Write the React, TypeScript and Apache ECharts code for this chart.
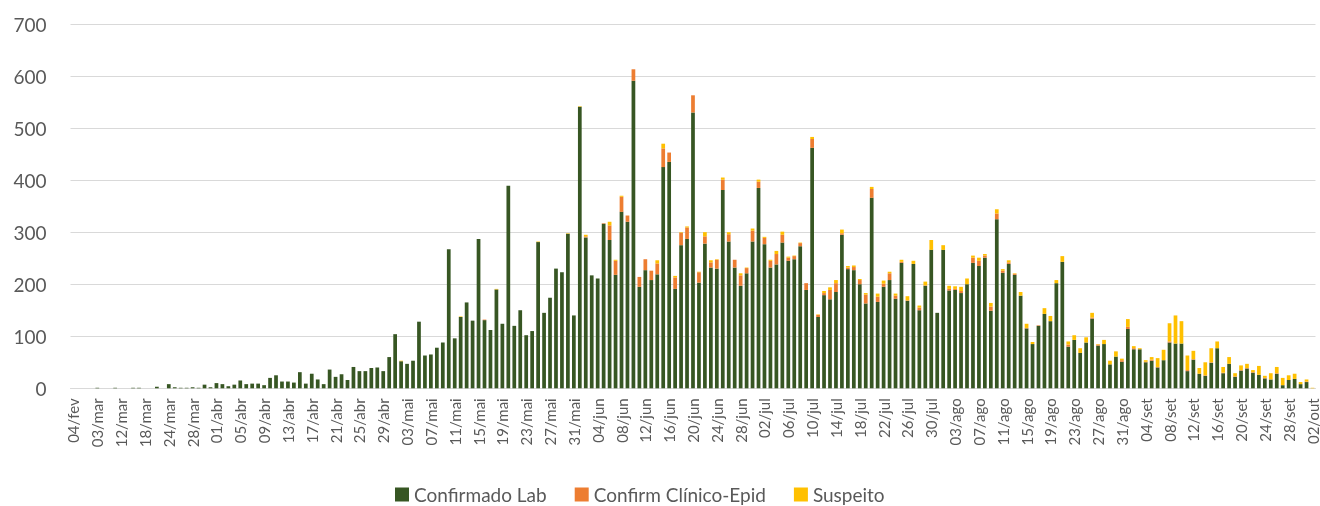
import React, { useEffect, useRef } from "react";
import * as echarts from "echarts";

const monthNames = ["jan", "fev", "mar", "abr", "mai", "jun", "jul", "ago", "set", "out", "nov", "dez"];
const earlyDates = [
  "04/fev", "26/fev", "28/fev", "01/mar", "03/mar", "05/mar", "07/mar", "10/mar", "12/mar", "14/mar",
  "16/mar", "17/mar", "18/mar", "20/mar", "21/mar", "23/mar", "24/mar", "25/mar", "26/mar", "27/mar",
];
const dailyStart = [2020, 2, 28];
const dailyEnd = [2020, 9, 2];

function buildDates(): string[] {
  const out = [...earlyDates];
  const d = new Date(dailyStart[0], dailyStart[1], dailyStart[2]);
  const end = new Date(dailyEnd[0], dailyEnd[1], dailyEnd[2]);
  while (d.getTime() <= end.getTime()) {
    const dd = String(d.getDate()).padStart(2, "0");
    out.push(dd + "/" + monthNames[d.getMonth()]);
    d.setDate(d.getDate() + 1);
  }
  return out;
}
const categories = buildDates();

const confirmadoLab = [
  0, 0, 0, 0, 1, 0, 0, 1, 0, 0,
  1, 1, 0, 0, 3, 0, 8, 2, 1, 1,
  2, 1, 7, 2, 10, 8, 4, 7, 15, 8,
  9, 9, 6, 20, 25, 13, 13, 11, 31, 9,
  28, 17, 8, 36, 22, 27, 16, 41, 33, 33,
  39, 40, 33, 60, 104, 52, 47, 53, 128, 63,
  65, 78, 88, 267, 96, 137, 165, 130, 287, 131,
  112, 190, 124, 389, 120, 150, 102, 110, 281, 145,
  174, 230, 223, 297, 140, 541, 290, 217, 211, 316,
  285, 218, 339, 320, 591, 195, 227, 208, 219, 425,
  435, 191, 275, 287, 530, 203, 278, 232, 230, 381,
  282, 232, 197, 221, 282, 385, 277, 232, 238, 280,
  245, 248, 273, 189, 462, 137, 179, 171, 185, 295,
  229, 227, 200, 163, 366, 166, 195, 208, 172, 241,
  168, 239, 150, 197, 266, 145, 266, 188, 189, 183,
  200, 241, 235, 251, 149, 325, 222, 239, 218, 178,
  115, 85, 120, 143, 129, 202, 243, 80, 93, 68,
  88, 134, 82, 85, 46, 61, 51, 114, 75, 75,
  50, 53, 40, 54, 88, 86, 86, 33, 55, 28,
  24, 49, 77, 29, 47, 22, 34, 38, 30, 26,
  19, 17, 28, 6, 16, 18, 8, 12, 0,
];

const confirmClinicoEpid = [
  0, 0, 0, 0, 0, 0, 0, 0, 0, 0,
  0, 0, 0, 0, 0, 0, 0, 0, 0, 0,
  0, 0, 0, 0, 0, 0, 0, 0, 0, 0,
  0, 0, 0, 0, 0, 0, 0, 0, 0, 0,
  0, 0, 0, 0, 0, 0, 0, 0, 0, 0,
  0, 0, 0, 0, 0, 0, 0, 0, 0, 0,
  0, 0, 0, 0, 0, 0, 0, 0, 0, 1,
  0, 0, 0, 0, 0, 0, 0, 0, 0, 0,
  0, 0, 0, 0, 0, 0, 2, 0, 0, 1,
  28, 27, 29, 12, 22, 19, 21, 18, 21, 36,
  18, 22, 24, 22, 33, 20, 14, 10, 17, 20,
  14, 15, 20, 10, 21, 12, 12, 13, 20, 15,
  6, 6, 6, 13, 17, 4, 4, 18, 17, 3,
  3, 6, 8, 17, 17, 10, 6, 13, 6, 2,
  1, 0, 5, 1, 0, 0, 0, 3, 2, 4,
  0, 10, 10, 4, 8, 11, 4, 3, 2, 0,
  1, 0, 1, 0, 0, 0, 0, 4, 0, 0,
  0, 2, 2, 0, 0, 0, 3, 4, 2, 0,
  1, 2, 1, 0, 2, 0, 0, 2, 1, 0,
  1, 1, 0, 1, 0, 1, 1, 1, 1, 0,
  1, 0, 1, 0, 0, 0, 0, 1, 0,
];

const suspeito = [
  0, 0, 0, 0, 0, 0, 0, 0, 0, 0,
  0, 0, 0, 0, 0, 0, 0, 0, 0, 0,
  0, 0, 0, 0, 0, 0, 0, 0, 0, 0,
  0, 0, 0, 0, 0, 0, 0, 0, 0, 0,
  0, 0, 0, 0, 0, 0, 0, 0, 0, 0,
  0, 0, 0, 0, 0, 1, 0, 0, 0, 0,
  0, 0, 0, 0, 0, 1, 0, 0, 0, 0,
  0, 1, 0, 0, 0, 0, 0, 0, 1, 0,
  0, 0, 0, 1, 0, 1, 3, 0, 0, 0,
  7, 2, 2, 0, 0, 0, 0, 0, 6, 9,
  0, 3, 1, 2, 0, 1, 8, 4, 1, 4,
  4, 0, 4, 1, 4, 4, 2, 2, 6, 6,
  2, 1, 1, 0, 4, 1, 4, 5, 6, 7,
  3, 3, 2, 3, 4, 6, 6, 3, 4, 4,
  8, 6, 4, 7, 19, 0, 9, 6, 5, 8,
  11, 4, 6, 3, 7, 8, 3, 4, 1, 7,
  8, 4, 0, 11, 10, 6, 11, 6, 9, 9,
  10, 9, 1, 8, 7, 10, 3, 15, 4, 2,
  3, 5, 17, 20, 35, 54, 43, 28, 16, 11,
  25, 27, 13, 11, 13, 6, 9, 8, 4, 17,
  4, 12, 12, 14, 9, 10, 4, 4, 1,
];

const seriesNames = ["Confirmado Lab", "Confirm Clínico-Epid", "Suspeito"];
const seriesColors = ["#375623", "#ED7D31", "#FFC000"];

export default function App() {
  const ref = useRef<HTMLDivElement>(null);
  useEffect(() => {
    if (!ref.current) return;
    const chart = echarts.init(ref.current, null, { renderer: "svg" });
    const font = "Lato, 'Open Sans', sans-serif";
    const values = [confirmadoLab, confirmClinicoEpid, suspeito];
    chart.setOption({
      animation: false,
      textStyle: { fontFamily: font },
      grid: { left: 70.5, right: 4, top: 24, bottom: 117.7, containLabel: false },
      legend: {
        data: seriesNames,
        left: 390,
        top: 480,
        itemWidth: 14,
        itemHeight: 14,
        itemGap: 28,
        icon: "rect",
        textStyle: { fontSize: 19, color: "#595959", fontFamily: font },
      },
      xAxis: {
        type: "category",
        data: categories,
        axisTick: { show: false },
        axisLine: { lineStyle: { color: "#D9D9D9", width: 1 } },
        axisLabel: {
          interval: 3,
          rotate: 90,
          fontSize: 15,
          lineHeight: 15,
          color: "#595959",
          fontFamily: font,
          margin: 10,
        },
      },
      yAxis: {
        type: "value",
        min: 0,
        max: 700,
        interval: 100,
        axisLine: { show: false },
        axisTick: { show: false },
        splitLine: { lineStyle: { color: "#D9D9D9", width: 1 } },
        axisLabel: { fontSize: 19, color: "#595959", fontFamily: font, margin: 24 },
      },
      series: seriesNames.map((name, i) => ({
        name,
        type: "bar",
        stack: "total",
        barCategoryGap: "37.5%",
        itemStyle: { color: seriesColors[i] },
        data: values[i],
      })),
    });
    return () => chart.dispose();
  }, []);
  return (
    <div
      ref={ref}
      style={{ position: "fixed", left: 0, top: 0, width: 1320, height: 506 }}
    />
  );
}
